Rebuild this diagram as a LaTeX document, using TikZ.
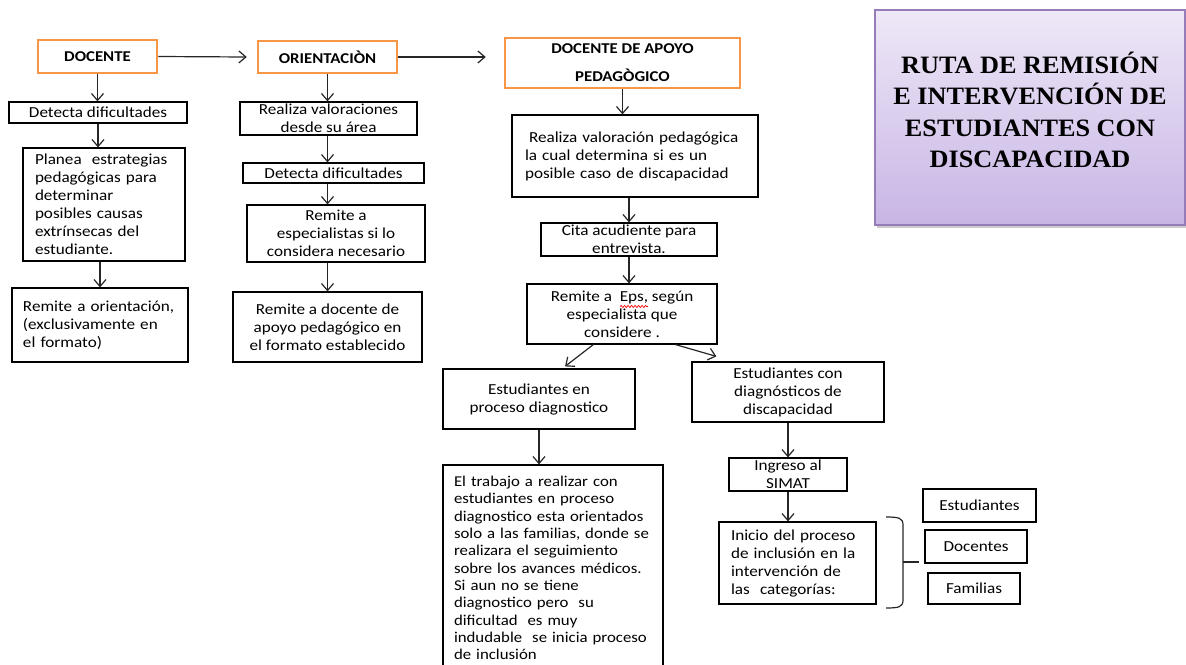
\documentclass[tikz,border=0pt]{standalone}
\usepackage{fontspec}
\setmainfont{Carlito}[FakeStretch=1.12]
\newfontfamily\titlefont{Liberation Serif}[FakeStretch=1.05]
\usetikzlibrary{arrows.meta,calc,shadows,decorations.pathmorphing}
\definecolor{orng}{RGB}{247,150,70}
\definecolor{lavtop}{RGB}{238,232,247}
\definecolor{lavbot}{RGB}{200,181,229}
\definecolor{lavbord}{RGB}{150,125,185}
\begin{document}
\begin{tikzpicture}[x=1pt,y=-1pt,
  box/.style={draw=black, line width=1.2pt, inner sep=0pt, align=center,
    font=\fontsize{15.3}{18}\selectfont},
  lbox/.style={box, align=left},
  hdr/.style={draw=orng, line width=2.5pt, inner sep=0pt, align=center,
    font=\bfseries\fontsize{15}{18}\selectfont},
  arr/.style={draw=black!85, line width=1.2pt,
    -{Straight Barb[length=7pt,width=12pt,line width=1.2pt]}},
  plain/.style={draw=black!85, line width=1.2pt}
]
\useasboundingbox (0,0) rectangle (1186,664);

% ---- title ----
\node[draw=lavbord, line width=1.5pt, top color=lavtop, bottom color=lavbot,
  minimum width=310pt, minimum height=215pt, inner sep=0pt,
  drop shadow={shadow xshift=2pt, shadow yshift=-3pt, fill=black!40}]
  (tbox) at (1030,117.5) {};
\node[align=center, inner sep=0pt,
  font=\titlefont\bfseries\fontsize{25}{31.3}\selectfont]
  (ttext) at (1030,110) {RUTA DE REMISIÓN\\E INTERVENCIÓN DE\\ESTUDIANTES CON\\DISCAPACIDAD};

% ---- column 1: DOCENTE ----
\node[hdr, minimum width=119pt, minimum height=33pt] (d0) at (97.5,56.5) {DOCENTE};
\node[box, minimum width=178pt, minimum height=21pt] (d1) at (98,112.5) {Detecta dificultades};
\node[lbox, text width=138pt, inner xsep=12pt, minimum height=113pt] (d2) at (104,204.5)
  {Planea~ estrategias\\pedagógicas para\\determinar\\posibles causas\\extrínsecas del\\estudiante.};
\node[lbox, text width=154pt, inner xsep=11pt, minimum height=74pt] (d3) at (100,325)
  {Remite a orientación,\\(exclusivamente en\\el formato)};

% ---- column 2: ORIENTACION ----
\node[hdr, minimum width=139pt, minimum height=32pt] (o0) at (327.5,57) {ORIENTACIÒN};
\node[box, minimum width=177pt, minimum height=33pt] (o1) at (328.5,118.5) {Realiza valoraciones\\desde su área};
\node[box, minimum width=181pt, minimum height=20pt] (o2) at (333.5,173) {Detecta dificultades};
\node[box, minimum width=178pt, minimum height=57pt] (o3) at (336,233.5) {Remite a\\especialistas si lo\\considera necesario};
\node[box, minimum width=189pt, minimum height=70pt] (o4) at (327.5,327) {Remite a docente de\\apoyo pedagógico en\\el formato establecido};

% ---- column 3: DOCENTE DE APOYO ----
\node[hdr, minimum width=235pt, minimum height=50pt,
  font=\bfseries\fontsize{15}{28}\selectfont] (c0) at (622.5,63) {DOCENTE DE APOYO\\PEDAGÒGICO};
\node[lbox, text width=220pt, inner xsep=13pt, minimum height=82pt] (c1) at (635,156)
  {\hspace{4pt}Realiza valoración pedagógica\\la cual determina si es un\\posible caso de discapacidad};
\node[box, minimum width=176pt, minimum height=33pt] (c2) at (629,239.5) {Cita acudiente para\\entrevista.};
\node[box, minimum width=190pt, minimum height=60pt] (c3) at (622,314) {Remite a~ Eps, según\\especialista que\\considere .};
\node[box, minimum width=192pt, minimum height=60pt] (e1) at (539,399) {Estudiantes en\\proceso diagnostico};
\node[box, minimum width=192pt, minimum height=60pt] (e2) at (788,392) {Estudiantes con\\diagnósticos de\\discapacidad};
\node[lbox, text width=198pt, inner xsep=11pt, minimum height=206pt,
  font=\fontsize{15}{17.3}\selectfont] (e3) at (553,568)
  {El trabajo a realizar con\\estudiantes en proceso\\diagnostico esta orientados\\solo a las familias, donde se\\realizara el seguimiento\\sobre los avances médicos.\\Si aun no se tiene\\diagnostico pero~ su\\dificultad~ es muy\\indudable~ se inicia proceso\\de inclusión};
\node[box, minimum width=118pt, minimum height=33pt] (s1) at (788,474.5) {Ingreso al\\SIMAT};
\node[lbox, text width=133pt, inner xsep=12pt, minimum height=82pt] (s2) at (797.5,563)
  {Inicio del proceso\\de inclusión en la\\intervención de\\las~ categorías:};
\node[box, minimum width=113pt, minimum height=33pt] (k1) at (979.5,505.5) {Estudiantes};
\node[box, minimum width=102pt, minimum height=33pt] (k2) at (976,546.5) {Docentes};
\node[box, minimum width=92pt, minimum height=31pt] (k3) at (974,588.5) {Familias};

% ---- spell-check wave under "Eps" ----
\coordinate (w1) at (620,306.5);
\coordinate (w2) at (648,306.5);
\draw[red, line width=0.7pt, decorate,
  decoration={snake, amplitude=1.1pt, segment length=3.5pt}] (w1) -- (w2);

% ---- connectors ----
\draw[arr] (d0.east) -- ($(o0.west)+(-10,0)$);
\draw[arr] (o0.east) -- ($(o0.east -| c0.west)+(-18,0)$);

\draw[arr] (d0.south) -- (d0.south |- d1.north);
\draw[arr] (d1.south) -- (d1.south |- d2.north);
\draw[arr] (d2.south -| d3.north) -- (d3.north);

\draw[arr] (o0.south) -- (o0.south |- o1.north);
\draw[arr] (o1.south -| o0.south) -- (o0.south |- o2.north);
\draw[arr] (o2.south -| o0.south) -- (o0.south |- o3.north);
\draw[arr] (o3.south -| o0.south) -- (o0.south |- o4.north);

\draw[arr] (c0.south) -- (c0.south |- c1.north);
\draw[arr] (c1.south -| c2.north) -- (c2.north);
\draw[arr] (c2.south) -- (c2.south |- c3.north);
\draw[arr] ($(c3.south west)!0.35!(c3.south east)$) -- ($(e1.north west)!0.635!(e1.north east)+(0,-2)$);
\draw[arr] ($(c3.south west)!0.78!(c3.south east)$) -- ($(e2.north west)+(25,-5)$);
\draw[arr] (e1.south) -- (e1.south |- e3.north);
\draw[arr] (e2.south) -- (e2.south |- s1.north);
\draw[arr] (s1.south) -- (s1.south |- s2.north);

% ---- brace ----
\coordinate (bt) at (886,517);
\coordinate (bb) at (886,608);
\coordinate (bm) at (903,562);
\coordinate (btip) at (919,562);
\draw[plain] (bt) .. controls (899,517) and (903,518) .. (903,525)
  -- (903,600) .. controls (903,607) and (899,608) .. (bb);
\draw[plain] (bm) -- (btip);
\end{tikzpicture}
\end{document}
